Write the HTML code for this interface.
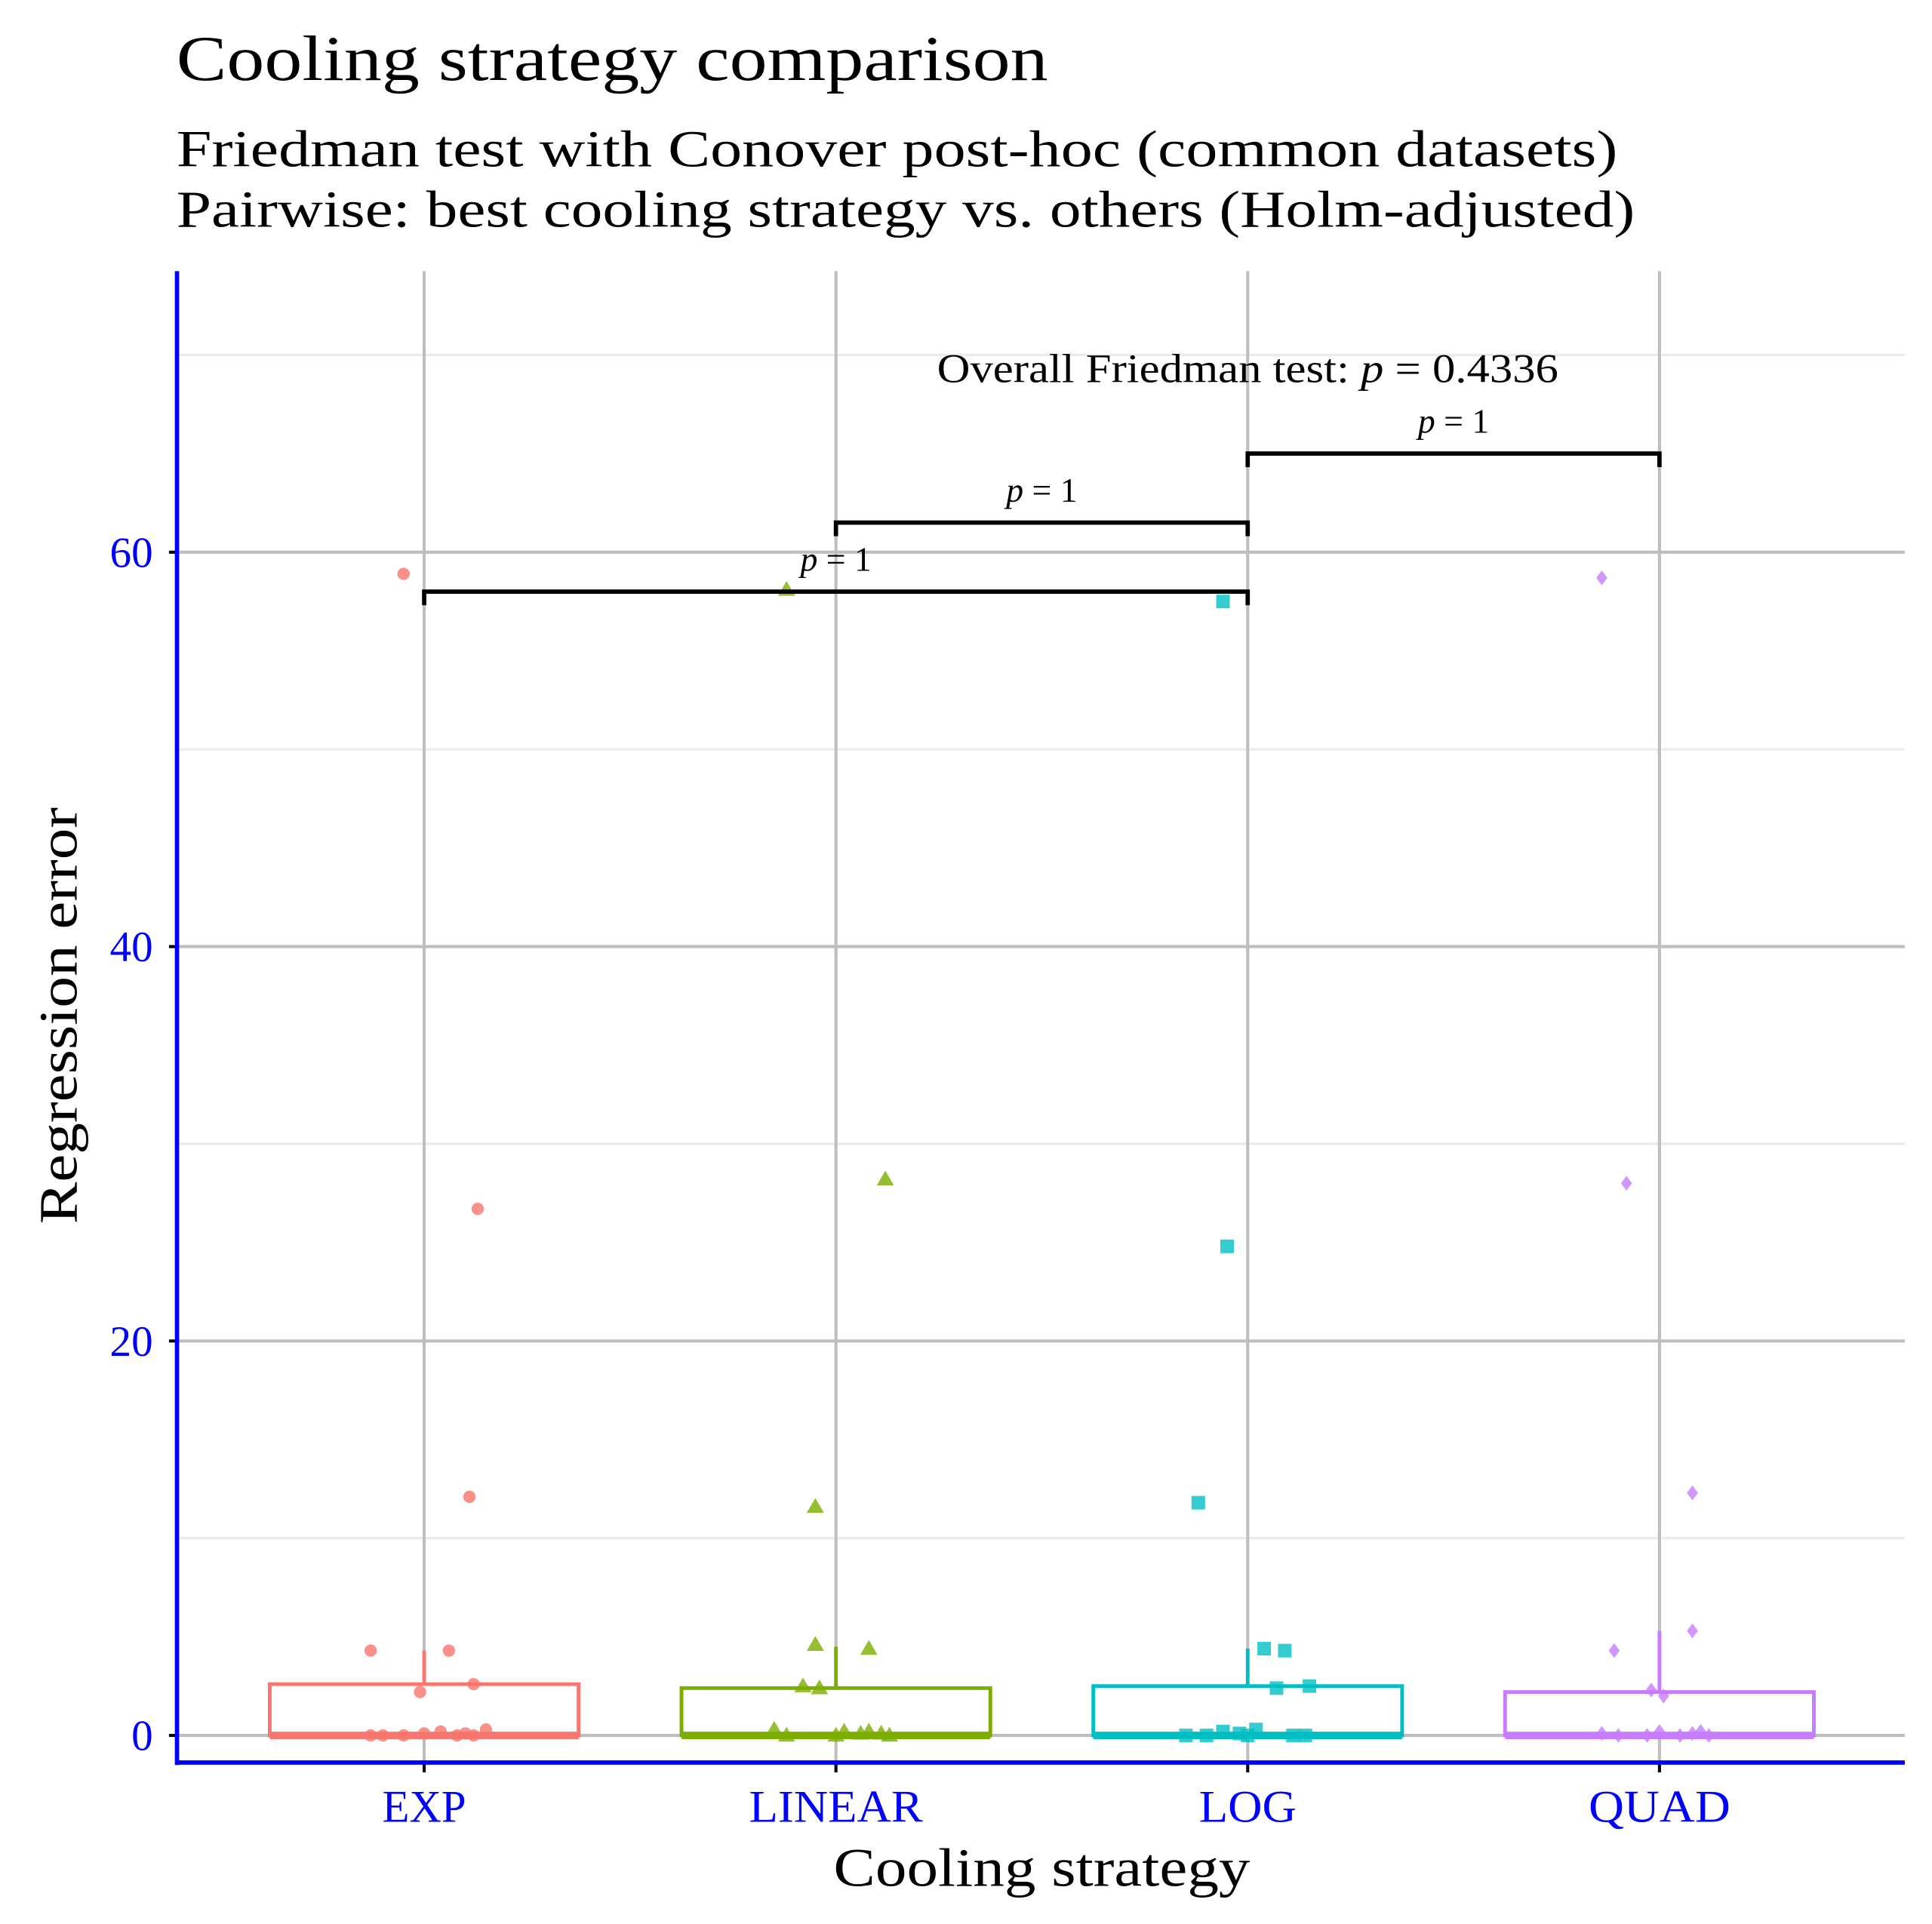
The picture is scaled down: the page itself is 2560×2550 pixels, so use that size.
<!DOCTYPE html>
<html><head><meta charset="utf-8"><style>
html,body{margin:0;padding:0;background:#fff;}
svg{display:block;font-family:"Liberation Serif",serif;}
</style></head><body>
<svg id="chart" width="2560" height="2550" viewBox="0 0 1567 1561" xmlns="http://www.w3.org/2000/svg">
<text x="143" y="65" font-size="52" fill="#000" textLength="707" lengthAdjust="spacingAndGlyphs">Cooling strategy comparison</text>
<text x="143" y="135" font-size="42" fill="#000" textLength="1169" lengthAdjust="spacingAndGlyphs">Friedman test with Conover post-hoc (common datasets)</text>
<text x="143" y="184" font-size="42" fill="#000" textLength="1183" lengthAdjust="spacingAndGlyphs">Pairwise: best cooling strategy vs. others (Holm-adjusted)</text>
<g id="grid"></g>
<g id="boxes"></g>
<g id="points"></g>
<g id="brackets"></g>
<g id="axes"></g>
<text x="676" y="1530" font-size="44" textLength="338" lengthAdjust="spacingAndGlyphs">Cooling strategy</text>
<text transform="translate(62,993) rotate(-90)" font-size="44" textLength="338" lengthAdjust="spacingAndGlyphs">Regression error</text>
<text x="760" y="310" font-size="33" textLength="504" lengthAdjust="spacingAndGlyphs">Overall Friedman test: <tspan font-style="italic">p</tspan> = 0.4336</text>
</svg>
<script>
const categories = ["EXP","LINEAR","LOG","QUAD"];
const colors = ["#F8766D","#7CAE00","#00BFC4","#C77CFF"];
const yTicks = [0,20,40,60];
const yMinor = [10,30,50,70];
const boxQ1 = [0,0,0,0];
const boxMedian = [0,0,0,0];
const boxQ3 = [2.6,2.4,2.5,2.2];
const whiskerHigh = [4.3,4.5,4.4,5.3];
const pointValues = [
  [58.9,26.7,12.1,4.3,4.3,2.6,2.2,0,0,0,0.1,0.2,0,0.1,0,0.3],
  [58.1,28.2,11.6,4.6,4.4,2.5,2.4,0.3,0,0,0.1,0.2,0.1,0,0.2],
  [57.5,24.8,11.8,4.4,4.3,2.4,2.5,0,0,0.2,0.1,0,0.3,0,0],
  [58.7,28.0,12.3,4.3,5.3,2.3,2.0,0.1,0,0,0.2,0,0.1,0.2,0]
];
const pointJitter = [
  [-0.05,0.13,0.11,-0.13,0.06,0.12,-0.01,-0.13,-0.1,-0.05,0,0.04,0.08,0.1,0.12,0.15],
  [-0.12,0.12,-0.05,-0.05,0.08,-0.08,-0.04,-0.15,-0.12,0,0.06,0.08,0.11,0.13,0.02],
  [-0.06,-0.05,-0.12,0.04,0.09,0.07,0.15,-0.15,-0.1,-0.06,-0.02,0,0.02,0.11,0.14],
  [-0.14,-0.08,0.08,-0.11,0.08,-0.02,0.01,-0.14,-0.1,-0.03,0,0.05,0.08,0.1,0.12]
];
const bracketFrom = [0,1,2];
const bracketTo = [2,2,3];
const bracketY = [58,61.5,65];
const bracketLabels = ["p = 1","p = 1","p = 1"];

const NS="http://www.w3.org/2000/svg";
const L=145,R=1545,T=220,B=1430;
const y=v=>1408-v*16;
const x=i=>344+i*334;
const bw=(1012-678)*0.75;
const xLabelW=[68,141,79,115];
function mk(tag,attrs,parent){const e=document.createElementNS(NS,tag);for(const k in attrs)e.setAttribute(k,attrs[k]);parent.appendChild(e);return e;}
const grid=document.getElementById('grid'),boxes=document.getElementById('boxes'),pts=document.getElementById('points'),br=document.getElementById('brackets'),ax=document.getElementById('axes');
yMinor.forEach(v=>{const l=mk('line',{x1:L,x2:R,y1:y(v),y2:y(v),stroke:'#ebebeb','stroke-width':2},grid);

});
yTicks.forEach(v=>{const l=mk('line',{x1:L,x2:R,y1:y(v),y2:y(v),stroke:'#bebebe','stroke-width':2.5},grid);


const tk=mk('line',{x1:137,x2:145,y1:y(v),y2:y(v),stroke:'#000','stroke-width':2.5},ax);


const t=mk('text',{x:124,y:y(v)+12,'font-size':35,fill:'#0000ff','text-anchor':'end'},ax);t.textContent=v;

});
categories.forEach((c,i)=>{const l=mk('line',{x1:x(i),x2:x(i),y1:T,y2:B,stroke:'#bebebe','stroke-width':2.5},grid);


const tk=mk('line',{x1:x(i),x2:x(i),y1:B,y2:B+8,stroke:'#000','stroke-width':2.5},ax);


const t=mk('text',{x:x(i),y:1478,'font-size':37,fill:'#0000ff','text-anchor':'middle',textLength:xLabelW[i],lengthAdjust:'spacingAndGlyphs'},ax);t.textContent=c;


const g=mk('g',{},boxes);


mk('line',{x1:x(i),x2:x(i),y1:y(boxQ3[i]),y2:y(whiskerHigh[i]),stroke:colors[i],'stroke-width':3},g);
mk('rect',{x:x(i)-bw/2,y:y(boxQ3[i]),width:bw,height:y(boxQ1[i])-y(boxQ3[i]),fill:'#fff',stroke:colors[i],'stroke-width':3},g);
mk('line',{x1:x(i)-bw/2,x2:x(i)+bw/2,y1:y(boxMedian[i]),y2:y(boxMedian[i]),stroke:colors[i],'stroke-width':6},g);
pointValues[i].forEach((v,j)=>{const px=x(i)+pointJitter[i][j]*334,py=y(v);let e;
if(i==0)e=mk('circle',{cx:px,cy:py,r:5},pts);
else if(i==1)e=mk('polygon',{points:`${px},${py-7} ${px-7},${py+5} ${px+7},${py+5}`},pts);
else if(i==2)e=mk('rect',{x:px-5.5,y:py-5.5,width:11,height:11},pts);
else e=mk('polygon',{points:`${px},${py-6} ${px-4.5},${py} ${px},${py+6} ${px+4.5},${py}`},pts);
e.setAttribute('fill',colors[i]);e.setAttribute('fill-opacity',0.8);

});});
bracketFrom.forEach((f,k)=>{const x1=x(f),x2=x(bracketTo[k]),yy=y(bracketY[k]);
const p=mk('path',{d:`M${x1},${yy+11}V${yy}H${x2}V${yy+11}`,fill:'none',stroke:'#000','stroke-width':3.5},br);


const t=mk('text',{x:(x1+x2)/2,y:yy-17,'font-size':28,'text-anchor':'middle'},br);
const parts=bracketLabels[k].split(' ');
const it=mk('tspan',{'font-style':'italic'},t);it.textContent=parts[0];
t.appendChild(document.createTextNode(' '+parts.slice(1).join(' ')));

});
const ya=mk('line',{x1:143.5,x2:143.5,y1:T,y2:B+2,stroke:'#0000ff','stroke-width':3.5},ax);


const xa=mk('line',{x1:142,x2:R,y1:B,y2:B,stroke:'#0000ff','stroke-width':3.5},ax);


</script>
</body></html>
